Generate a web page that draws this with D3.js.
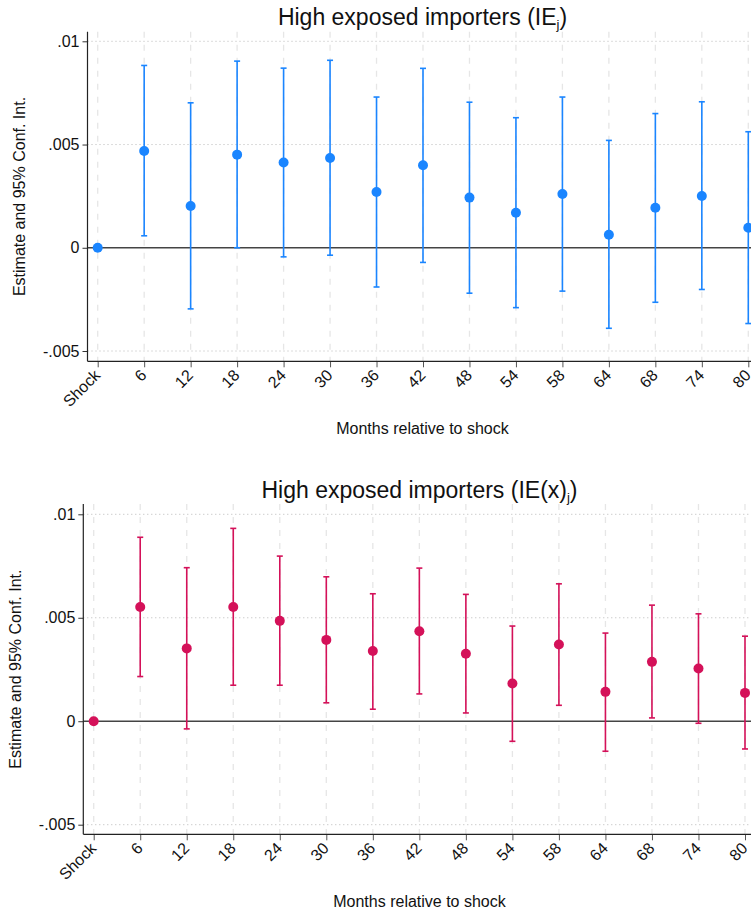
<!DOCTYPE html>
<html><head><meta charset="utf-8">
<script src="https://cdn.jsdelivr.net/npm/d3@7"></script>
<style>
html,body{margin:0;padding:0;background:#fff;}
svg text{font-family:"Liberation Sans",Arial,sans-serif;fill:#111;}
</style></head>
<body>
<svg id="chart" width="751" height="915"></svg>
<script>
const categories = ["Shock","6","12","18","24","30","36","42","48","54","58","64","68","74","80"];
const yTicks = [-0.005, 0, 0.005, 0.01];
const yTickLabels = ["-.005","0",".005",".01"];

const topEst   = [0, 0.00469, 0.00202, 0.00451, 0.00413, 0.00435, 0.0027, 0.0040, 0.00243, 0.0017, 0.0026, 0.00063, 0.00194, 0.00251, 0.00097];
const topLow   = [null, 0.00058, -0.00296, 0.0000, -0.00044, -0.00036, -0.0019, -0.00071, -0.0022, -0.0029, -0.0021, -0.0039, -0.00264, -0.00202, -0.00367];
const topHigh  = [null, 0.00883, 0.00702, 0.00904, 0.0087, 0.00908, 0.0073, 0.00869, 0.00705, 0.0063, 0.0073, 0.0052, 0.0065, 0.00707, 0.00562];

const botEst   = [0, 0.00552, 0.00352, 0.00552, 0.00485, 0.00393, 0.00339, 0.00435, 0.00326, 0.00182, 0.00371, 0.00142, 0.00287, 0.00255, 0.00137];
const botLow   = [null, 0.00216, -0.00037, 0.00174, 0.00174, 0.00089, 0.00058, 0.00132, 0.0004, -0.00097, 0.00077, -0.00145, 0.00016, -0.0001, -0.00134];
const botHigh  = [null, 0.00889, 0.00742, 0.00932, 0.00798, 0.00698, 0.00616, 0.0074, 0.00613, 0.0046, 0.00664, 0.00426, 0.00561, 0.00519, 0.00411];

const svg = d3.select("#chart");
const FF = "'Liberation Sans',Arial,sans-serif";

function panel(cfg){
  const g = svg.append("g");
  const x = d3.scalePoint().domain(categories).range([cfg.x0, cfg.x1]);
  const y = d3.scaleLinear().domain([-0.005, 0.01]).range([cfg.yb, cfg.yt]);
  const left = cfg.axisX, right = 751, top = cfg.plotTop, bottom = cfg.plotBottom;

  // vertical dashed grid
  g.selectAll(".vg").data(categories).enter().append("line")
    .attr("x1", d=>x(d)).attr("x2", d=>x(d)).attr("y1", top).attr("y2", bottom)
    .attr("stroke", "#e6e6e6").attr("stroke-width", 1.3).attr("stroke-dasharray", "6,7");
  // horizontal dotted grid
  g.selectAll(".hg").data(yTicks.filter(v=>v!==0)).enter().append("line")
    .attr("x1", left).attr("x2", right).attr("y1", d=>y(d)).attr("y2", d=>y(d))
    .attr("stroke", "#b8b8b8").attr("stroke-width", 1).attr("stroke-dasharray", "1,3");
  // zero line
  g.append("line").attr("x1", left).attr("x2", right).attr("y1", y(0)).attr("y2", y(0))
    .attr("stroke", "#444").attr("stroke-width", 1.6);

  // axes
  const ya = g.append("g").attr("transform", `translate(${left},0)`)
    .call(d3.axisLeft(y).tickValues(yTicks).tickFormat((d,i)=>yTickLabels[i]).tickSize(5).tickPadding(3));
  ya.select(".domain").remove();
  ya.append("line").attr("x1",0).attr("x2",0).attr("y1",top).attr("y2",bottom).attr("stroke","#222").attr("stroke-width",1.2);
  ya.selectAll(".tick line").attr("stroke","#333");
  ya.selectAll(".tick text").attr("font-size", 16).attr("fill","#111").style("font-family",FF);

  const xa = g.append("g").attr("transform", `translate(0,${bottom})`)
    .call(d3.axisBottom(x).tickSize(6).tickPadding(4));
  xa.select(".domain").remove();
  xa.append("line").attr("x1",left).attr("x2",right).attr("y1",0).attr("y2",0).attr("stroke","#222").attr("stroke-width",1.2);
  xa.selectAll(".tick line").attr("stroke","#555");
  xa.selectAll(".tick text").attr("font-size", 16).attr("fill","#111")
    .style("font-family",FF)
    .attr("text-anchor","end").attr("dy","0")
    .attr("transform","translate(3,15) rotate(-45)").attr("y",0).attr("x",0);

  // CIs
  const idx = d3.range(categories.length).filter(i=>cfg.low[i]!==null);
  const cap = 3;
  g.selectAll(".ci").data(idx).enter().append("line")
    .attr("x1", i=>x(categories[i])).attr("x2", i=>x(categories[i]))
    .attr("y1", i=>y(cfg.low[i])).attr("y2", i=>y(cfg.high[i]))
    .attr("stroke", cfg.color).attr("stroke-width", 1.6);
  g.selectAll(".capl").data(idx).enter().append("line")
    .attr("x1", i=>x(categories[i])-cap).attr("x2", i=>x(categories[i])+cap)
    .attr("y1", i=>y(cfg.low[i])).attr("y2", i=>y(cfg.low[i]))
    .attr("stroke", cfg.color).attr("stroke-width", 1.6);
  g.selectAll(".caph").data(idx).enter().append("line")
    .attr("x1", i=>x(categories[i])-cap).attr("x2", i=>x(categories[i])+cap)
    .attr("y1", i=>y(cfg.high[i])).attr("y2", i=>y(cfg.high[i]))
    .attr("stroke", cfg.color).attr("stroke-width", 1.6);
  // points
  g.selectAll(".pt").data(cfg.est).enter().append("circle")
    .attr("cx", (d,i)=>x(categories[i])).attr("cy", d=>y(d)).attr("r", 5)
    .attr("fill", cfg.color);

  // title
  const t = g.append("text").attr("x", cfg.titleX).attr("y", cfg.titleY).attr("text-anchor","middle")
    .attr("font-size", 23);
  t.append("tspan").text(cfg.titleMain);
  t.append("tspan").attr("font-size", 13).attr("dy", 4).text("j");
  t.append("tspan").attr("dy", -4).text(")");

  // axis titles
  g.append("text").attr("x", cfg.titleX).attr("y", cfg.xlabY).attr("text-anchor","middle")
    .attr("font-size", 16).text("Months relative to shock");
  g.append("text").attr("transform", `translate(${cfg.ylabX},${(top+bottom)/2}) rotate(-90)`)
    .attr("text-anchor","middle").attr("font-size", 16).text("Estimate and 95% Conf. Int.");
}

panel({x0:97.7, x1:748.3, yt:41.3, yb:351, axisX:87.5, plotTop:31.7, plotBottom:361.3,
  est:topEst, low:topLow, high:topHigh, color:"#1A85FF",
  titleMain:"High exposed importers (IE", titleX:422.5, titleY:25, xlabY:434, ylabX:25});
panel({x0:93.7, x1:745, yt:514.3, yb:824.7, axisX:83.3, plotTop:504, plotBottom:834.3,
  est:botEst, low:botLow, high:botHigh, color:"#D41159",
  titleMain:"High exposed importers (IE(x)", titleX:419.5, titleY:497.5, xlabY:907, ylabX:21});
</script>
</body></html>
